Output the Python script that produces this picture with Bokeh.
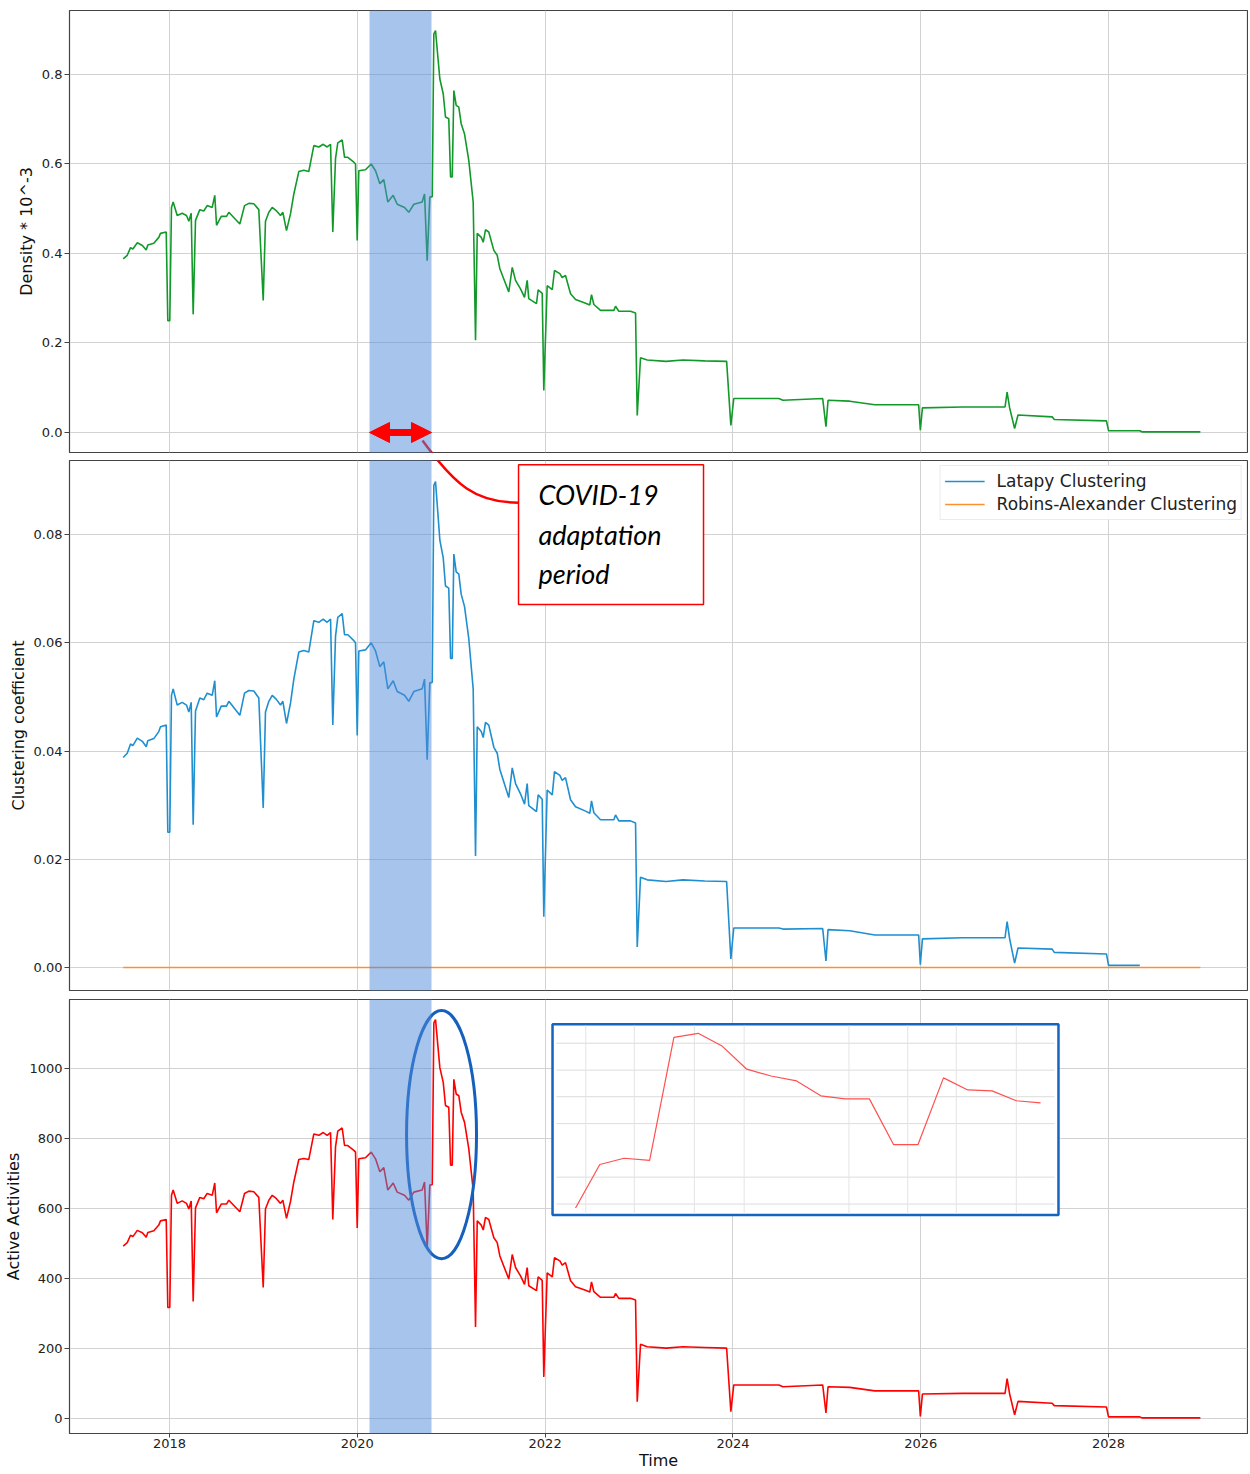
from bokeh.plotting import figure
from bokeh.layouts import column
from bokeh.models import (FixedTicker, PrintfTickFormatter, BoxAnnotation, Arrow, NormalHead,
                          Label, Range1d)
from bokeh.core.properties import value
from bokeh.embed import file_html
from bokeh.resources import INLINE

# ---------------- data ----------------
dates = [2017.507, 2017.550, 2017.585, 2017.610, 2017.657, 2017.711, 2017.752, 2017.769, 2017.833, 2017.886,
         2017.904, 2017.965, 2017.982, 2018.003, 2018.021, 2018.039, 2018.082, 2018.135, 2018.181, 2018.206,
         2018.231, 2018.252, 2018.277, 2018.323, 2018.365, 2018.401, 2018.455, 2018.482, 2018.501, 2018.551,
         2018.607, 2018.632, 2018.749, 2018.799, 2018.845, 2018.898, 2018.951, 2018.998, 2019.022, 2019.058,
         2019.094, 2019.136, 2019.182, 2019.207, 2019.246, 2019.289, 2019.324, 2019.377, 2019.430, 2019.483,
         2019.537, 2019.590, 2019.637, 2019.679, 2019.715, 2019.739, 2019.768, 2019.792, 2019.839, 2019.864,
         2019.899, 2019.963, 2019.981, 2019.999, 2020.016, 2020.087, 2020.148, 2020.194, 2020.240, 2020.282,
         2020.325, 2020.382, 2020.425, 2020.503, 2020.548, 2020.602, 2020.691, 2020.716, 2020.744, 2020.772,
         2020.798, 2020.815, 2020.833, 2020.879, 2020.915, 2020.939, 2020.974, 2020.993, 2021.011, 2021.028,
         2021.053, 2021.081, 2021.106, 2021.142, 2021.187, 2021.234, 2021.259, 2021.277, 2021.320, 2021.341,
         2021.365, 2021.400, 2021.454, 2021.490, 2021.518, 2021.613, 2021.650, 2021.685, 2021.738, 2021.781,
         2021.809, 2021.826, 2021.908, 2021.926, 2021.969, 2021.986, 2022.022, 2022.076, 2022.100, 2022.157,
         2022.182, 2022.217, 2022.271, 2022.324, 2022.431, 2022.476, 2022.494, 2022.519, 2022.590, 2022.732,
         2022.750, 2022.785, 2022.909, 2022.963, 2022.981, 2023.016, 2023.087, 2023.289, 2023.467, 2023.700,
         2023.933, 2023.978, 2024.009, 2024.489, 2024.533, 2024.956, 2024.991, 2025.013, 2025.244, 2025.511,
         2025.978, 2025.996, 2026.018, 2026.444, 2026.898, 2026.920, 2026.947, 2027.000, 2027.036, 2027.400,
         2027.422, 2027.978, 2028.000, 2028.333, 2028.356, 2028.978]

density = [0.388, 0.396, 0.413, 0.410, 0.424, 0.418, 0.408, 0.419, 0.423, 0.436,
           0.445, 0.448, 0.250, 0.250, 0.503, 0.515, 0.485, 0.490, 0.485, 0.472,
           0.490, 0.264, 0.474, 0.498, 0.495, 0.507, 0.503, 0.530, 0.463, 0.483,
           0.483, 0.492, 0.466, 0.507, 0.512, 0.511, 0.498, 0.295, 0.472, 0.492,
           0.503, 0.496, 0.485, 0.492, 0.451, 0.489, 0.533, 0.583, 0.586, 0.583,
           0.641, 0.638, 0.644, 0.638, 0.644, 0.448, 0.612, 0.647, 0.654, 0.615,
           0.615, 0.604, 0.600, 0.429, 0.585, 0.587, 0.600, 0.585, 0.556, 0.565,
           0.515, 0.530, 0.510, 0.503, 0.492, 0.510, 0.515, 0.533, 0.384, 0.526,
           0.527, 0.891, 0.898, 0.790, 0.757, 0.705, 0.701, 0.571, 0.571, 0.764,
           0.731, 0.727, 0.690, 0.667, 0.608, 0.515, 0.206, 0.445, 0.436, 0.425,
           0.453, 0.448, 0.407, 0.396, 0.366, 0.314, 0.369, 0.340, 0.321, 0.302,
           0.340, 0.299, 0.288, 0.319, 0.311, 0.094, 0.328, 0.319, 0.362, 0.355,
           0.346, 0.351, 0.310, 0.297, 0.289, 0.285, 0.308, 0.286, 0.273, 0.273,
           0.282, 0.271, 0.271, 0.267, 0.038, 0.167, 0.162, 0.159, 0.162, 0.160,
           0.159, 0.016, 0.076, 0.076, 0.072, 0.076, 0.013, 0.072, 0.070, 0.062,
           0.062, 0.005, 0.055, 0.057, 0.057, 0.090, 0.055, 0.009, 0.039, 0.035,
           0.029, 0.026, 0.004, 0.004, 0.0015, 0.0015]

latapy = [0.0388, 0.0396, 0.0413, 0.0410, 0.0424, 0.0418, 0.0408, 0.0419, 0.0423, 0.0436,
          0.0445, 0.0448, 0.0250, 0.0250, 0.0503, 0.0515, 0.0485, 0.0490, 0.0485, 0.0472,
          0.0490, 0.0264, 0.0474, 0.0498, 0.0495, 0.0507, 0.0503, 0.0530, 0.0463, 0.0483,
          0.0483, 0.0492, 0.0466, 0.0507, 0.0512, 0.0511, 0.0498, 0.0295, 0.0472, 0.0492,
          0.0503, 0.0496, 0.0485, 0.0492, 0.0451, 0.0489, 0.0533, 0.0583, 0.0586, 0.0583,
          0.0641, 0.0638, 0.0644, 0.0638, 0.0644, 0.0448, 0.0612, 0.0647, 0.0654, 0.0615,
          0.0615, 0.0604, 0.0600, 0.0429, 0.0585, 0.0587, 0.0600, 0.0585, 0.0556, 0.0565,
          0.0515, 0.0530, 0.0510, 0.0503, 0.0492, 0.0510, 0.0515, 0.0533, 0.0384, 0.0526,
          0.0527, 0.0891, 0.0898, 0.0790, 0.0757, 0.0705, 0.0701, 0.0571, 0.0571, 0.0764,
          0.0731, 0.0727, 0.0690, 0.0667, 0.0608, 0.0515, 0.0206, 0.0445, 0.0436, 0.0425,
          0.0453, 0.0448, 0.0407, 0.0396, 0.0366, 0.0314, 0.0369, 0.0340, 0.0321, 0.0302,
          0.0340, 0.0299, 0.0288, 0.0319, 0.0311, 0.0094, 0.0328, 0.0319, 0.0362, 0.0355,
          0.0346, 0.0351, 0.0310, 0.0297, 0.0289, 0.0285, 0.0308, 0.0286, 0.0273, 0.0273,
          0.0282, 0.0271, 0.0271, 0.0267, 0.0038, 0.0167, 0.0162, 0.0159, 0.0162, 0.0160,
          0.0159, 0.0016, 0.0073, 0.0073, 0.0071, 0.0072, 0.0012, 0.0070, 0.0068, 0.0060,
          0.0060, 0.0005, 0.0053, 0.0055, 0.0055, 0.0085, 0.0053, 0.0008, 0.0036, 0.0034,
          0.0028, 0.0025, 0.0004, 0.0004]

robins_dates = [2017.507, 2028.978]
robins = [0.0, 0.0]

activities = [492, 502, 523, 519, 537, 530, 517, 531, 536, 552,
              564, 568, 317, 317, 637, 652, 614, 621, 614, 598,
              621, 334, 601, 631, 627, 642, 637, 672, 587, 612,
              612, 623, 590, 642, 649, 647, 631, 374, 598, 623,
              637, 628, 614, 623, 571, 620, 675, 739, 742, 739,
              812, 808, 816, 808, 816, 568, 775, 820, 829, 779,
              779, 765, 760, 544, 741, 744, 760, 741, 704, 716,
              652, 672, 646, 637, 623, 646, 652, 675, 487, 666,
              668, 1129, 1138, 1001, 959, 893, 888, 723, 723, 968,
              926, 921, 874, 845, 770, 652, 261, 564, 552, 538,
              574, 568, 516, 502, 464, 398, 468, 431, 407, 383,
              431, 379, 365, 404, 394, 119, 416, 404, 459, 450,
              438, 445, 393, 376, 366, 361, 390, 362, 346, 346,
              357, 343, 343, 338, 48, 212, 205, 201, 205, 203,
              201, 20, 96, 96, 91, 96, 16, 91, 89, 79,
              79, 6, 70, 72, 72, 114, 70, 11, 49, 44,
              37, 33, 5, 5, 2, 2]

# zoomed inset (weekly points around the post-adaptation peak)
inset_dates = [2020.720, 2020.739, 2020.758, 2020.778, 2020.797, 2020.816, 2020.835, 2020.854, 2020.873, 2020.893,
               2020.912, 2020.931, 2020.950, 2020.969, 2020.988, 2021.008, 2021.027, 2021.046, 2021.065, 2021.084]
inset_values = [575, 716, 736, 729, 1127, 1140, 1098, 1024, 1002, 986,
                938, 928, 928, 780, 780, 996, 957, 954, 922, 915]
inset_grid_y = [1108, 1021, 935, 848, 675, 588]
inset_grid_x = [2020.728, 2020.766, 2020.813, 2020.852, 2020.934, 2020.980, 2021.018, 2021.065]

x_ticks = [2018, 2020, 2022, 2024, 2026, 2028]
density_ticks = [0.0, 0.2, 0.4, 0.6, 0.8]
clust_ticks = [0.00, 0.02, 0.04, 0.06, 0.08]
act_ticks = [0, 200, 400, 600, 800, 1000]

covid_start, covid_end = 2020.13, 2020.79

# ---------------- styling helpers ----------------
XR = (2016.935, 2029.480)
FONT = "DejaVu Sans"
GRID = "#d2d2d2"
BAND = "#4f89d9"
W = 1248


def base_fig(height, yr, top, bottom, yticks, yfmt, ylabel, show_x, band_top, band_bottom):
    p = figure(width=W, height=height, x_range=Range1d(*XR), y_range=Range1d(*yr),
               output_backend="svg", toolbar_location=None, title=None,
               min_border_left=69, min_border_right=1, min_border_top=top, min_border_bottom=bottom)
    p.outline_line_color = "#444444"
    p.outline_line_width = 1.2
    p.xaxis.ticker = FixedTicker(ticks=x_ticks)
    p.xgrid.ticker = FixedTicker(ticks=x_ticks)
    p.yaxis.ticker = FixedTicker(ticks=yticks)
    p.ygrid.ticker = FixedTicker(ticks=yticks)
    p.xaxis.formatter = PrintfTickFormatter(format="%d")
    p.yaxis.formatter = PrintfTickFormatter(format=yfmt)
    p.grid.grid_line_color = GRID
    p.grid.grid_line_width = 1
    for ax in p.axis:
        ax.major_label_text_font = FONT
        ax.major_label_text_font_size = "13px"
        ax.major_label_text_color = "#222222"
        ax.axis_label_text_font = FONT
        ax.axis_label_text_font_size = "16px"
        ax.axis_label_text_font_style = "normal"
        ax.axis_label_text_color = "#111111"
        ax.major_tick_out = 5
        ax.major_tick_in = 0
        ax.minor_tick_out = 0
        ax.minor_tick_in = 0
        ax.major_tick_line_color = "#444444"
        ax.axis_line_color = "#444444"
        ax.major_label_standoff = 2
        ax.axis_label_standoff = 3
    p.yaxis.axis_label = ylabel
    if not show_x:
        p.xaxis.visible = False
    else:
        p.xaxis.axis_label = "Time"
        p.xaxis.axis_label_standoff = 0
        p.xaxis.major_label_standoff = 1
        p.xaxis.major_tick_out = 4
    kw = dict(left=covid_start, right=covid_end, fill_color=BAND, fill_alpha=0.5, line_alpha=0)
    if band_top is not None:
        kw.update(top=band_top, top_units="canvas")
    if band_bottom is not None:
        kw.update(bottom=band_bottom, bottom_units="canvas")
    p.add_layout(BoxAnnotation(**kw))
    return p


# ---------------- top: density ----------------
p1 = base_fig(456, (-0.0447, 0.943), 10, 4, density_ticks, "%.1f", "Density * 10^-3", False, None, 456)
p1.line(dates, density, line_color="#12992a", line_width=1.6)
p1.bezier(x0=[2020.694], y0=[-0.0179], x1=[2021.717], y1=[-0.1564],
          cx0=[2021.045], cy0=[-0.1184], cx1=[2021.258], cy1=[-0.1564],
          line_color="red", line_width=2.5)
head = dict(size=20, fill_color="red", line_color="red", line_width=1)
p1.add_layout(Arrow(start=NormalHead(**head), end=NormalHead(**head),
                    x_start=covid_start, y_start=0.0, x_end=covid_end, y_end=0.0,
                    line_color="red", line_width=7))

# ---------------- middle: clustering ----------------
p2 = base_fig(538, (-0.00425, 0.0937), 4, 4, clust_ticks, "%.2f", "Clustering coefficient", False, 0, 538)
p2.line(dates[:len(latapy)], latapy, line_color="#1f8fcf", line_width=1.6, legend_label="Latapy Clustering")
p2.line(robins_dates, robins, line_color="#ff8f2e", line_width=1.6, legend_label="Robins-Alexander Clustering")
p2.bezier(x0=[2020.694], y0=[0.09737], x1=[2021.717], y1=[0.08591],
          cx0=[2021.045], cy0=[0.08905], cx1=[2021.258], cy1=[0.08591],
          line_color="red", line_width=2.5)
p2.add_layout(BoxAnnotation(left=2021.717, right=2023.687, top=0.09293, bottom=0.06707,
                            fill_color="white", fill_alpha=1, line_color="red", line_alpha=1,
                            line_width=1.5))
for txt, yy in [("COVID-19", 0.08739), ("adaptation", 0.08000), ("period", 0.07279)]:
    p2.add_layout(Label(x=2021.93, y=yy, text=txt, text_font="Lato", text_font_style="italic",
                        text_font_size="27px", text_baseline="middle", text_color="black"))
lg = p2.legend[0]
lg.location = "top_right"
lg.margin = 5
lg.padding = 4
lg.spacing = 1
lg.glyph_width = 40
lg.glyph_height = 22
lg.label_height = 22
lg.label_standoff = 12
lg.label_text_font = FONT
lg.label_text_font_size = "17px"
lg.label_text_color = "#222222"
lg.border_line_color = "#d8d8d8"
lg.background_fill_alpha = 0.9

# ---------------- bottom: active activities ----------------
p3 = base_fig(478, (-42.5, 1195.5), 5, 36, act_ticks, "%d", "Active Activities", True, 0, None)
p3.line(dates, activities, line_color="#ff0000", line_width=1.6)
p3.ellipse(x=[2020.897], y=[810], width=[0.745], height=[708],
           fill_color=None, line_color="#1560bd", line_width=3)
p3.quad(left=[2022.079], right=[2027.467], bottom=[580.7], top=[1124.6],
        fill_color="white", line_color="#1565c0", line_width=2.5)
sub = p3.subplot(x_source=Range1d(2020.702, 2021.098), y_source=Range1d(552.5, 1169.0),
                 x_target=Range1d(2022.079, 2027.467), y_target=Range1d(580.7, 1124.6))
sub.segment(x0=[2020.705] * len(inset_grid_y), x1=[2021.095] * len(inset_grid_y),
            y0=inset_grid_y, y1=inset_grid_y, line_color="#dcdcdc", line_width=1)
sub.segment(x0=inset_grid_x, x1=inset_grid_x, y0=[556] * len(inset_grid_x), y1=[1165] * len(inset_grid_x),
            line_color="#e4e4e4", line_width=1)
sub.line(inset_dates, inset_values, line_color="#ff5050", line_width=1.2)

layout = column(p1, p2, p3, spacing=0)
open("out.html", "w").write(file_html(layout, INLINE))
